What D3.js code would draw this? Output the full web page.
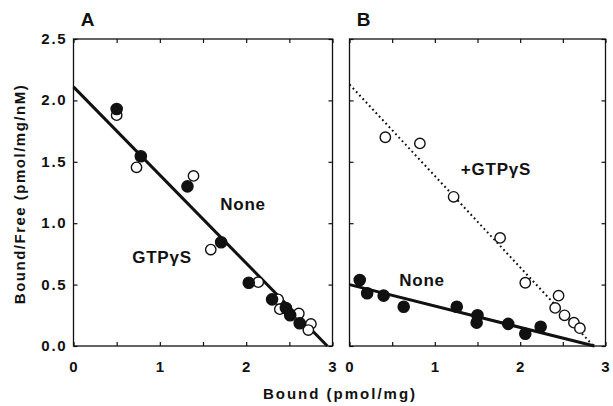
<!DOCTYPE html>
<html><head><meta charset="utf-8">
<script src="https://cdn.jsdelivr.net/npm/d3@7"></script>
<style>body{margin:0;background:#fff}svg{display:block}text{font-family:"Liberation Sans",Arial,sans-serif;fill:#111}</style>
</head><body><svg id="c" width="613" height="406"></svg>
<script>
// Panel A: None (filled) and GTPγS (open)
const aNoneX = [0.50, 0.78, 1.32, 1.71, 2.03, 2.30, 2.46, 2.51, 2.62];
const aNoneY = [1.93, 1.545, 1.30, 0.845, 0.515, 0.38, 0.31, 0.25, 0.185];
const aGtpX = [0.50, 0.73, 1.39, 1.59, 2.14, 2.37, 2.39, 2.61, 2.75, 2.72];
const aGtpY = [1.88, 1.455, 1.385, 0.785, 0.52, 0.38, 0.30, 0.265, 0.18, 0.13];
const aLineX = [0, 2.94];
const aLineY = [2.11, 0];
// Panel B
const bNoneX = [0.12, 0.207, 0.40, 0.635, 1.257, 1.50, 1.49, 1.86, 2.06, 2.24];
const bNoneY = [0.537, 0.43, 0.41, 0.32, 0.32, 0.25, 0.19, 0.18, 0.10, 0.157];
const bGtpX = [0.42, 0.825, 1.22, 1.765, 2.06, 2.45, 2.41, 2.52, 2.63, 2.70];
const bGtpY = [1.70, 1.65, 1.215, 0.88, 0.515, 0.41, 0.31, 0.25, 0.19, 0.145];
const bNoneLineX = [0, 2.87];
const bNoneLineY = [0.50, 0];
const bGtpLineX = [0, 2.86];
const bGtpLineY = [2.13, 0];
const xTicks = [0, 1, 2, 3];
const yTicks = [0.0, 0.5, 1.0, 1.5, 2.0, 2.5];

const svg = d3.select("#c");
const plotTop = 39, plotBottom = 346;
const y = d3.scaleLinear().domain([0, 2.5]).range([plotBottom, plotTop]);
const xA = d3.scaleLinear().domain([0, 3]).range([73.5, 332.5]);
const xB = d3.scaleLinear().domain([0, 3]).range([349.5, 605.5]);

function frame(x, letter, showY) {
  const g = svg.append("g");
  const [x0, x1] = x.range();
  g.append("rect").attr("x", x0).attr("y", plotTop).attr("width", x1 - x0).attr("height", plotBottom - plotTop)
    .attr("fill", "none").attr("stroke", "#111").attr("stroke-width", 1.3);
  const minor = d3.range(0, 3.01, 0.5);
  const yminor = d3.range(0, 2.51, 0.5);
  g.append("g").attr("transform", `translate(0,${plotBottom})`)
    .call(d3.axisBottom(x).tickValues(minor).tickSize(-4).tickFormat(""))
    .call(s => s.select(".domain").remove());
  g.append("g").attr("transform", `translate(0,${plotTop})`)
    .call(d3.axisTop(x).tickValues(minor).tickSize(-4).tickFormat(""))
    .call(s => s.select(".domain").remove());
  g.append("g").attr("transform", `translate(${x0},0)`)
    .call(d3.axisLeft(y).tickValues(yminor).tickSize(-4).tickFormat(""))
    .call(s => s.select(".domain").remove());
  g.append("g").attr("transform", `translate(${x1},0)`)
    .call(d3.axisRight(y).tickValues(yminor).tickSize(-4).tickFormat(""))
    .call(s => s.select(".domain").remove());
  g.selectAll(".tick line").attr("stroke", "#111").attr("stroke-width", 1.2);
  g.selectAll(".xl").data(xTicks).join("text")
    .attr("x", d => x(d)).attr("y", plotBottom + 26).attr("text-anchor", "middle")
    .attr("font-size", 15).attr("font-weight", "bold").text(d => d);
  if (showY) {
    g.selectAll(".yl").data(yTicks).join("text")
      .attr("x", x0 - 6).attr("y", d => y(d) + 5).attr("text-anchor", "end")
      .attr("font-size", 15).attr("font-weight", "bold").attr("letter-spacing", 1.8)
      .text(d => d.toFixed(1));
  }
  g.append("text").attr("x", x0 + 14).attr("y", 26).attr("font-size", 19).attr("font-weight", "bold")
    .attr("text-anchor", "middle").text(letter);
}
frame(xA, "A", true);
frame(xB, "B", false);

function line(x, xs, ys, dotted) {
  svg.append("path").datum(d3.zip(xs, ys))
    .attr("d", d3.line().x(d => x(d[0])).y(d => y(d[1])))
    .attr("fill", "none").attr("stroke", "#111")
    .attr("stroke-width", dotted ? 2 : 3)
    .attr("stroke-dasharray", dotted ? "1.8,3" : null);
}
function pts(x, xs, ys, filled) {
  svg.append("g").selectAll("circle").data(d3.zip(xs, ys)).join("circle")
    .attr("cx", d => x(d[0])).attr("cy", d => y(d[1])).attr("r", filled ? 5.6 : 5.2)
    .attr("fill", filled ? "#111" : "#fff").attr("stroke", "#111").attr("stroke-width", 1.4);
}
line(xA, aLineX, aLineY, false);
pts(xA, aGtpX, aGtpY, false);
pts(xA, aNoneX, aNoneY, true);
line(xB, bNoneLineX, bNoneLineY, false);
line(xB, bGtpLineX, bGtpLineY, true);
pts(xB, bGtpX, bGtpY, false);
pts(xB, bNoneX, bNoneY, true);

function label(tx, ty, t) {
  svg.append("text").attr("x", tx).attr("y", ty).attr("text-anchor", "middle")
    .attr("font-size", 17).attr("font-weight", "bold").attr("letter-spacing", 0.8).text(t);
}
label(243, 210, "None");
label(162, 263, "GTPγS");
label(496, 175, "+GTPγS");
label(422, 286, "None");

svg.append("text").attr("x", 340).attr("y", 399).attr("text-anchor", "middle")
  .attr("font-size", 15).attr("font-weight", "bold").attr("letter-spacing", 2).text("Bound (pmol/mg)");
svg.append("text").attr("transform", "translate(25,194) rotate(-90)").attr("text-anchor", "middle")
  .attr("font-size", 15).attr("font-weight", "bold").attr("letter-spacing", 1.5).text("Bound/Free (pmol/mg/nM)");
</script></body></html>
